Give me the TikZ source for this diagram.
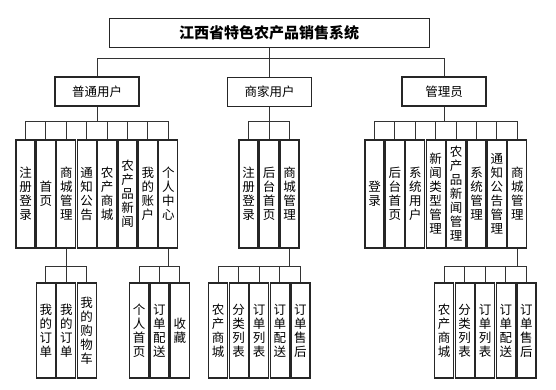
\documentclass[tikz,border=0pt]{standalone}
\usepackage{fontspec}
\newfontfamily\cjk{Noto Sans CJK SC}
\begin{document}
\begin{tikzpicture}[x=1pt, y=-1pt,
        every node/.style={font=\cjk\fontsize{12.5}{14}\selectfont, align=center, inner sep=0pt},
        topbox/.style={rectangle, draw=black!85, line width=1pt, minimum width=320pt, minimum height=29pt, font=\cjk\bfseries\fontsize{15}{18}\selectfont},
        rolebox/.style={rectangle, draw=black!85, line width=1.2pt, minimum width=84pt, minimum height=29pt},
        funcbox/.style={rectangle, draw=black!85, line width=1.2pt, minimum width=19pt, minimum height=108pt},
        subbox/.style={funcbox, minimum height=95pt},
        conn/.style={black!80, line width=0.9pt}
    ]
    \useasboundingbox (0,0) rectangle (556,389);
    % bus heights
    \coordinate (bus1) at (0,58);
    \coordinate (bus2) at (0,121);
    \coordinate (bus3) at (0,266);

    \node[topbox] (sys) at (269, 32.5) {江西省特色农产品销售系统};

    \node[rolebox] (user)     at (97, 91.5)  {普通用户};
    \node[rolebox] (merchant) at (269.5, 92) {商家用户};
    \node[rolebox] (admin)    at (444, 91.5) {管理员};

    % 普通用户
    \node[funcbox] (u1) at (25.5, 194)  {注\\册\\登\\录};
    \node[funcbox] (u2) at (45.9, 194)  {首\\页};
    \node[funcbox] (u3) at (66.3, 194)  {商\\城\\管\\理};
    \node[funcbox] (u4) at (86.7, 194)  {通\\知\\公\\告};
    \node[funcbox] (u5) at (107.1, 194) {农\\产\\商\\城};
    \node[funcbox] (u6) at (127.5, 194) {农\\产\\品\\新\\闻};
    \node[funcbox] (u7) at (147.9, 194) {我\\的\\账\\户};
    \node[funcbox] (u8) at (168.3, 194) {个\\人\\中\\心};

    \node[subbox] (uo1) at (45.9, 330.5) {我\\的\\订\\单};
    \node[subbox] (uo2) at (66.3, 330.5) {我\\的\\订\\单};
    \node[subbox] (uo3) at (86.7, 330.5) {我\\的\\购\\物\\车};

    \node[subbox] (up1) at (139, 330.5)   {个\\人\\首\\页};
    \node[subbox] (up2) at (159.4, 330.5) {订\\单\\配\\送};
    \node[subbox] (up3) at (179.8, 330.5) {收\\藏};

    % 商家用户
    \node[funcbox] (m1) at (248.5, 194) {注\\册\\登\\录};
    \node[funcbox] (m2) at (269, 194)   {后\\台\\首\\页};
    \node[funcbox] (m3) at (289.5, 194) {商\\城\\管\\理};

    \node[subbox] (mo1) at (218, 330.5)   {农\\产\\商\\城};
    \node[subbox] (mo2) at (238.6, 330.5) {分\\类\\列\\表};
    \node[subbox] (mo3) at (259.2, 330.5) {订\\单\\列\\表};
    \node[subbox] (mo4) at (279.8, 330.5) {订\\单\\配\\送};
    \node[subbox] (mo5) at (300.4, 330.5) {订\\单\\售\\后};

    % 管理员
    \node[funcbox] (a1) at (374.5, 194) {登\\录};
    \node[funcbox] (a2) at (394.9, 194) {后\\台\\首\\页};
    \node[funcbox] (a3) at (415.3, 194) {系\\统\\用\\户};
    \node[funcbox] (a4) at (435.7, 194) {新\\闻\\类\\型\\管\\理};
    \node[funcbox] (a5) at (456.1, 194) {农\\产\\品\\新\\闻\\管\\理};
    \node[funcbox] (a6) at (476.5, 194) {系\\统\\管\\理};
    \node[funcbox] (a7) at (496.9, 194) {通\\知\\公\\告\\管\\理};
    \node[funcbox] (a8) at (517.3, 194) {商\\城\\管\\理};

    \node[subbox] (ao1) at (444, 330.5)   {农\\产\\商\\城};
    \node[subbox] (ao2) at (464.6, 330.5) {分\\类\\列\\表};
    \node[subbox] (ao3) at (485.2, 330.5) {订\\单\\列\\表};
    \node[subbox] (ao4) at (505.8, 330.5) {订\\单\\配\\送};
    \node[subbox] (ao5) at (526.4, 330.5) {订\\单\\售\\后};

    % connectors
    \draw[conn] (sys.south) -- (sys|-bus1) -| (user.north);
    \draw[conn] (sys.south) -- (sys|-bus1) -| (merchant.north);
    \draw[conn] (sys.south) -- (sys|-bus1) -| (admin.north);

    \draw[conn] (user.south) -- (user|-bus2) -| (u1.north);
    \draw[conn] (user.south) -- (user|-bus2) -| (u2.north);
    \draw[conn] (user.south) -- (user|-bus2) -| (u3.north);
    \draw[conn] (user.south) -- (user|-bus2) -| (u4.north);
    \draw[conn] (user.south) -- (user|-bus2) -| (u5.north);
    \draw[conn] (user.south) -- (user|-bus2) -| (u6.north);
    \draw[conn] (user.south) -- (user|-bus2) -| (u7.north);
    \draw[conn] (user.south) -- (user|-bus2) -| (u8.north);

    \draw[conn] (u3.south) -- (u3|-bus3) -| (uo1.north);
    \draw[conn] (u3.south) -- (u3|-bus3) -| (uo2.north);
    \draw[conn] (u3.south) -- (u3|-bus3) -| (uo3.north);
    \draw[conn] (u8.south) -- (u8|-bus3) -| (up1.north);
    \draw[conn] (u8.south) -- (u8|-bus3) -| (up2.north);
    \draw[conn] (u8.south) -- (u8|-bus3) -| (up3.north);

    \draw[conn] (merchant.south) -- (merchant|-bus2) -| (m1.north);
    \draw[conn] (merchant.south) -- (merchant|-bus2) -| (m2.north);
    \draw[conn] (merchant.south) -- (merchant|-bus2) -| (m3.north);

    \draw[conn] (m3.south) -- (m3|-bus3) -| (mo1.north);
    \draw[conn] (m3.south) -- (m3|-bus3) -| (mo2.north);
    \draw[conn] (m3.south) -- (m3|-bus3) -| (mo3.north);
    \draw[conn] (m3.south) -- (m3|-bus3) -| (mo4.north);
    \draw[conn] (m3.south) -- (m3|-bus3) -| (mo5.north);

    \draw[conn] (admin.south) -- (admin|-bus2) -| (a1.north);
    \draw[conn] (admin.south) -- (admin|-bus2) -| (a2.north);
    \draw[conn] (admin.south) -- (admin|-bus2) -| (a3.north);
    \draw[conn] (admin.south) -- (admin|-bus2) -| (a4.north);
    \draw[conn] (admin.south) -- (admin|-bus2) -| (a5.north);
    \draw[conn] (admin.south) -- (admin|-bus2) -| (a6.north);
    \draw[conn] (admin.south) -- (admin|-bus2) -| (a7.north);
    \draw[conn] (admin.south) -- (admin|-bus2) -| (a8.north);

    \draw[conn] (a8.south) -- (a8|-bus3) -| (ao1.north);
    \draw[conn] (a8.south) -- (a8|-bus3) -| (ao2.north);
    \draw[conn] (a8.south) -- (a8|-bus3) -| (ao3.north);
    \draw[conn] (a8.south) -- (a8|-bus3) -| (ao4.north);
    \draw[conn] (a8.south) -- (a8|-bus3) -| (ao5.north);
\end{tikzpicture}
\end{document}
